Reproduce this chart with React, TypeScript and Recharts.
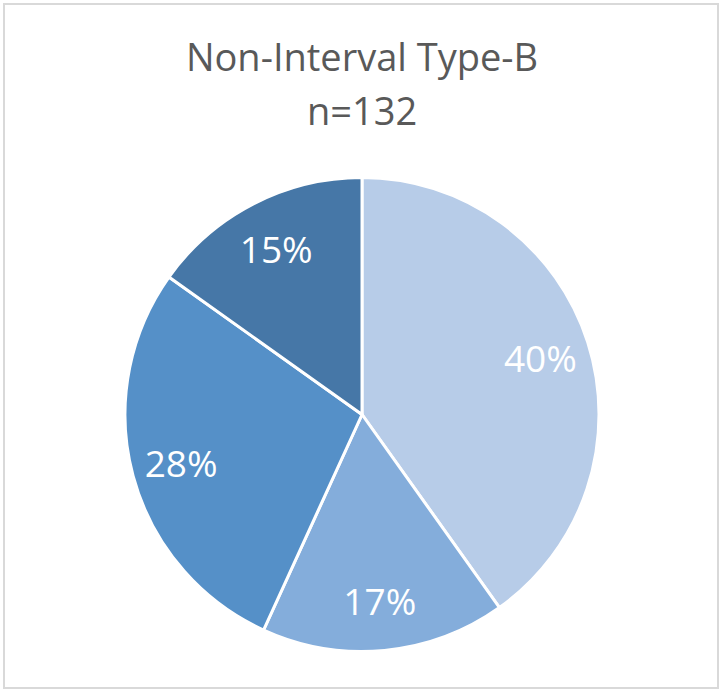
import { Cell, Pie, PieChart } from 'recharts'

const categories = ['A', 'B', 'C', 'D']
const counts = [53, 22, 37, 20]
const sliceColors = ['#B7CCE8', '#84ADDB', '#5590C8', '#4677A7']
const titleLines = ['Non-Interval Type-B', 'n=132']

const data = categories.map((name, i) => ({ name, value: counts[i] }))

const RADIAN = Math.PI / 180
const font = '"Open Sans", "Noto Sans", sans-serif'

function renderLabel(props: any) {
  const { cx, cy, midAngle, outerRadius, percent } = props
  const r = outerRadius * 0.79
  const x = cx + r * Math.cos(-midAngle * RADIAN)
  const y = cy + r * Math.sin(-midAngle * RADIAN)
  return (
    <text
      x={x}
      y={y}
      fill="#ffffff"
      fontFamily={font}
      fontSize={37}
      textAnchor="middle"
      dominantBaseline="central"
    >
      {`${Math.round(percent * 100)}%`}
    </text>
  )
}

export default function App() {
  return (
    <div style={{ position: 'absolute', left: 0, top: 0, width: 721, height: 692, background: '#fff' }}>
      <div
        style={{
          position: 'absolute',
          left: 3,
          top: 3,
          width: 712,
          height: 682,
          border: '2px solid #D9D9D9',
        }}
      />
      <PieChart
        width={721}
        height={692}
        margin={{ top: 0, right: 0, bottom: 0, left: 0 }}
        style={{ position: 'absolute', left: 0, top: 0 }}
      >
        <Pie
          data={data}
          dataKey="value"
          nameKey="name"
          cx={362}
          cy={414.5}
          outerRadius={237}
          startAngle={90}
          endAngle={-270}
          stroke="#ffffff"
          strokeWidth={3}
          label={renderLabel}
          labelLine={false}
          isAnimationActive={false}
        >
          {data.map((d, i) => (
            <Cell key={d.name} fill={sliceColors[i]} />
          ))}
        </Pie>
      </PieChart>
      <svg width={721} height={692} style={{ position: 'absolute', left: 0, top: 0, pointerEvents: 'none' }}>
        {titleLines.map((line, i) => (
          <text
            key={line}
            x={362}
            y={71 + i * 54}
            fill="#595959"
            fontFamily={font}
            fontSize={38}
            textAnchor="middle"
          >
            {line}
          </text>
        ))}
      </svg>
    </div>
  )
}
